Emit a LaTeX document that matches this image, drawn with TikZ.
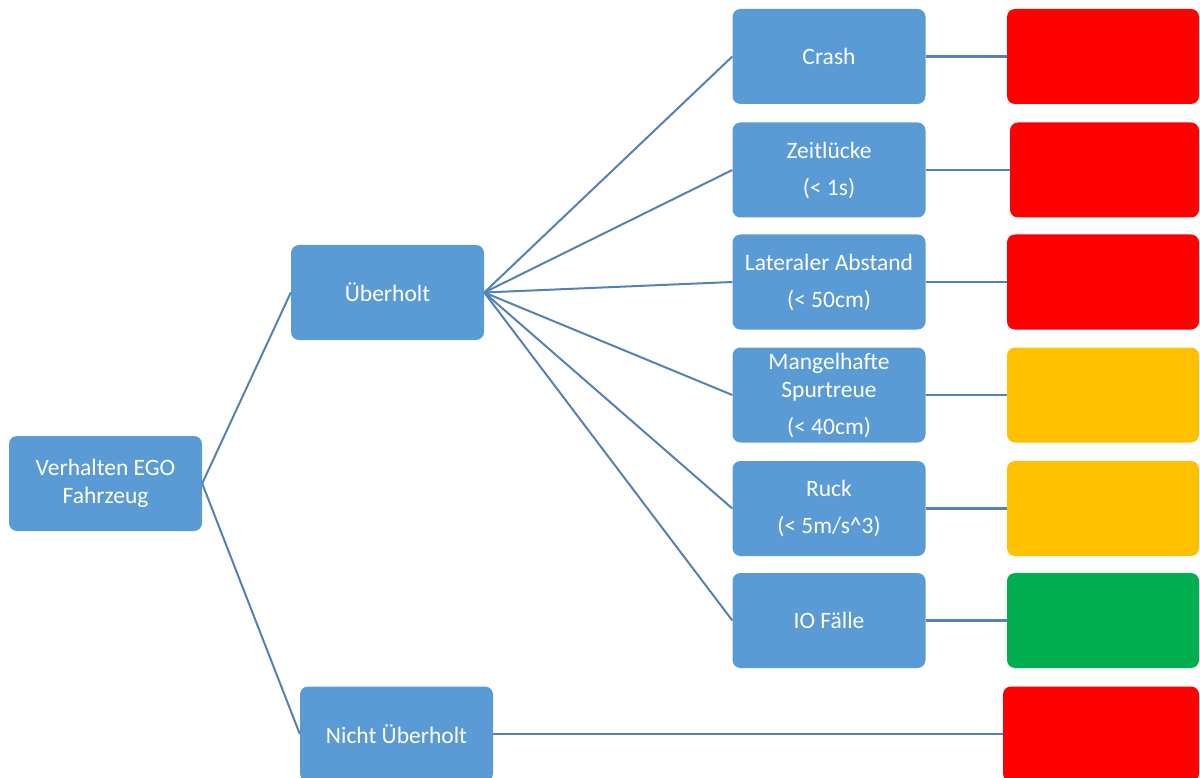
\documentclass[tikz,border=0pt]{standalone}
\usepackage{fontspec}
\setmainfont{Carlito}
\definecolor{boxblue}{RGB}{91,155,213}
\definecolor{linkblue}{RGB}{84,130,180}
\definecolor{rateRed}{RGB}{255,0,0}
\definecolor{rateAmber}{RGB}{255,192,0}
\definecolor{rateGreen}{RGB}{0,176,80}
\begin{document}
\begin{tikzpicture}[x=1pt,y=-1pt,
  card/.style={rounded corners=8pt, minimum width=193pt, minimum height=95pt,
    inner sep=0pt, align=center, text=white,
    font=\fontsize{23.5}{28}\selectfont},
  item/.style={card, fill=boxblue},
  rating/.style={rounded corners=8pt, minimum height=95pt, inner sep=0pt},
  link/.style={draw=linkblue, line width=2pt},
  feed/.style={link, line width=2.6pt}]
\useasboundingbox (0,0) rectangle (1200,778);

% tree nodes
\node[item] (root) at (105.5,483.5) {Verhalten EGO\\Fahrzeug};
\node[item] (ueb)  at (387.5,292.5) {Überholt};
\node[item] (nue)  at (396.5,734) {Nicht Überholt};

\node[item] (crash) at (829,56.5)  {Crash};
\node[item] (zeit)  at (829,170)   {Zeitlücke\\[9pt](< 1s)};
\node[item] (lat)   at (829,282)   {Lateraler Abstand\\[9pt](< 50cm)};
\node[item] (mang)  at (829,395)   {Mangelhafte\\Spurtreue\\[9pt](< 40cm)};
\node[item] (ruck)  at (829,508.5) {Ruck\\[9pt](< 5m/s\^{}3)};
\node[item] (io)    at (829,620.5) {IO Fälle};

% rating boxes
\node[rating, fill=rateRed,   minimum width=192pt] (r1) at (1103,56.5)  {};
\node[rating, fill=rateRed,   minimum width=189pt] (r2) at (1104.5,170) {};
\node[rating, fill=rateRed,   minimum width=192pt] (r3) at (1103,282)   {};
\node[rating, fill=rateAmber, minimum width=192pt] (r4) at (1103,395)   {};
\node[rating, fill=rateAmber, minimum width=192pt] (r5) at (1103,508.5) {};
\node[rating, fill=rateGreen, minimum width=192pt] (r6) at (1103,620.5) {};
\node[rating, fill=rateRed,   minimum width=196pt] (r7) at (1101,734)   {};

% connectors
\draw[link] (root.east) -- (ueb.west);
\draw[link] (root.east) -- (nue.west);
\foreach \c in {crash,zeit,lat,mang,ruck,io}
  \draw[link] (ueb.east) -- (\c.west);
\draw[feed] (crash.east) -- (r1.west);
\draw[feed] (zeit.east)  -- (r2.west);
\draw[feed] (lat.east)   -- (r3.west);
\draw[feed] (mang.east)  -- (r4.west);
\draw[feed] (ruck.east)  -- (r5.west);
\draw[feed] (io.east)    -- (r6.west);
\draw[feed] (nue.east)   -- (r7.west);
\end{tikzpicture}
\end{document}
